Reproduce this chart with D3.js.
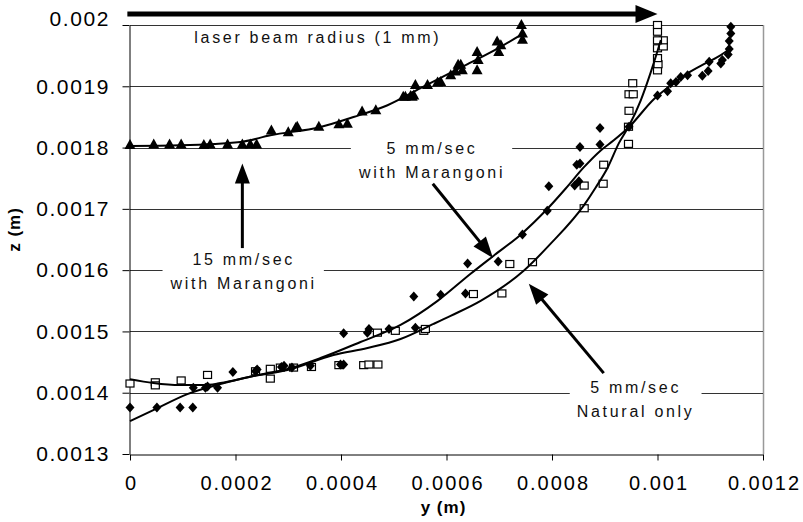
<!DOCTYPE html>
<html>
<head>
<meta charset="utf-8">
<script src="https://cdn.jsdelivr.net/npm/d3@7"></script>
<style>
  body { margin: 0; background: #fff; }
  svg { display: block; font-family: "Liberation Sans", Arial, sans-serif; }
</style>
</head>
<body>
<svg id="chart"></svg>
<script>
// axis ticks
const yTicks = [0, 0.0002, 0.0004, 0.0006, 0.0008, 0.001, 0.0012];
const yTickLabels = ["0", "0.0002", "0.0004", "0.0006", "0.0008", "0.001", "0.0012"];
const zTicks = [0.0013, 0.0014, 0.0015, 0.0016, 0.0017, 0.0018, 0.0019, 0.002];
const zTickLabels = ["0.0013", "0.0014", "0.0015", "0.0016", "0.0017", "0.0018", "0.0019", "0.002"];

// measured points [y, z]
const speed15 = [
  [0, 0.001804], [0.000045, 0.001805], [0.000075, 0.001805], [0.000097, 0.001805],
  [0.000140, 0.001804], [0.000152, 0.001805], [0.000185, 0.001805], [0.000213, 0.001805],
  [0.000228, 0.001805], [0.000240, 0.001805], [0.000268, 0.001828], [0.000300, 0.001825],
  [0.000314, 0.001832], [0.000317, 0.001834], [0.000358, 0.001834], [0.000396, 0.001838],
  [0.000412, 0.001839], [0.000440, 0.001859], [0.000466, 0.001861], [0.000518, 0.001883],
  [0.000522, 0.001883], [0.000532, 0.001884], [0.000535, 0.001883], [0.000538, 0.001885],
  [0.000541, 0.001902], [0.000564, 0.001902], [0.000583, 0.001906], [0.000589, 0.001907],
  [0.000608, 0.001918], [0.000617, 0.001924], [0.000622, 0.001935], [0.000627, 0.001935],
  [0.000630, 0.001926], [0.000658, 0.001956], [0.000660, 0.001943], [0.000658, 0.001926],
  [0.000696, 0.001973], [0.000703, 0.001967], [0.000699, 0.001956], [0.000742, 0.002000],
  [0.000744, 0.001986], [0.000744, 0.001976]
];
const speed5Marangoni = [
  [0, 0.001376], [0.000051, 0.001376], [0.000095, 0.001376], [0.000119, 0.001376],
  [0.000120, 0.001408], [0.000143, 0.001408], [0.000147, 0.001410], [0.000166, 0.001408],
  [0.000195, 0.001434], [0.000238, 0.001435], [0.000241, 0.001438], [0.000287, 0.001442],
  [0.000292, 0.001444], [0.000307, 0.001441], [0.000342, 0.001444], [0.000399, 0.001446],
  [0.000405, 0.001446], [0.000405, 0.001497], [0.000450, 0.001498], [0.000453, 0.001504],
  [0.000491, 0.001504], [0.000541, 0.001506], [0.000538, 0.001557], [0.000589, 0.001560],
  [0.000636, 0.001562], [0.000640, 0.001611], [0.000698, 0.001614], [0.000744, 0.001658],
  [0.000791, 0.001697], [0.000794, 0.001737], [0.000843, 0.001738], [0.000851, 0.001745],
  [0.000847, 0.001772], [0.000853, 0.001774], [0.000853, 0.001801], [0.000891, 0.001805],
  [0.000891, 0.001832], [0.000946, 0.001834], [0.001000, 0.001885], [0.001019, 0.001892],
  [0.001025, 0.001905], [0.001035, 0.001907], [0.001044, 0.001915], [0.001057, 0.001918],
  [0.001085, 0.001917], [0.001096, 0.001925], [0.001098, 0.001940], [0.001120, 0.001937],
  [0.001123, 0.001943], [0.001134, 0.001952], [0.001136, 0.001961], [0.001136, 0.001974],
  [0.001139, 0.001986], [0.001139, 0.001997]
];
const speed5Natural = [
  [0, 0.001415], [0.000048, 0.001417], [0.000048, 0.001412], [0.000097, 0.001420],
  [0.000147, 0.001429], [0.000238, 0.001435], [0.000266, 0.001439], [0.000266, 0.001423],
  [0.000285, 0.001441], [0.000310, 0.001441], [0.000344, 0.001442], [0.000396, 0.001445],
  [0.000443, 0.001445], [0.000453, 0.001446], [0.000470, 0.001446], [0.000469, 0.001498],
  [0.000503, 0.001501], [0.000557, 0.001501], [0.000560, 0.001504], [0.000651, 0.001561],
  [0.000705, 0.001562], [0.000720, 0.001610], [0.000763, 0.001613], [0.000861, 0.001701],
  [0.000861, 0.001738], [0.000897, 0.001741], [0.000898, 0.001772], [0.000945, 0.001806],
  [0.000945, 0.001834], [0.000946, 0.001860], [0.000946, 0.001887], [0.000954, 0.001887],
  [0.000953, 0.001905], [0.001000, 0.001926], [0.001001, 0.001936], [0.001000, 0.001946],
  [0.001000, 0.001962], [0.001011, 0.001965], [0.001011, 0.001975], [0.001000, 0.001975],
  [0.001000, 0.001989], [0.001000, 0.002000]
];

// trend lines [y, z]
const fit15 = [
  [0, 0.0018025], [0.0000954, 0.0018036], [0.0002093, 0.001809], [0.0002662, 0.00182],
  [0.0003611, 0.0018336], [0.0004237, 0.0018499], [0.0004882, 0.0018691], [0.0005508, 0.0018969],
  [0.00064, 0.0019362], [0.0007027, 0.0019645], [0.0007406, 0.0019836]
];
const fit5Marangoni = [
  [0, 0.0013535], [0.0000442, 0.0013715], [0.0001087, 0.0013977], [0.0001713, 0.0014141],
  [0.000234, 0.0014272], [0.0002985, 0.0014386], [0.0003611, 0.0014566], [0.000437, 0.0014828],
  [0.0005129, 0.0015106], [0.0005831, 0.0015499], [0.0006457, 0.0015941], [0.0006894, 0.0016236],
  [0.0007406, 0.0016579], [0.0007918, 0.0017005], [0.000826, 0.0017332], [0.0008601, 0.0017676],
  [0.0008924, 0.0017954], [0.0009171, 0.0018118], [0.0009455, 0.0018331], [0.000993, 0.0018789],
  [0.0010252, 0.0019018], [0.0010575, 0.0019214], [0.0010916, 0.0019378], [0.0011201, 0.0019509],
  [0.0011391, 0.0019624]
];
const fit5Natural = [
  [0, 0.0014222], [0.0000442, 0.0014157], [0.0000954, 0.0014124], [0.0001391, 0.0014124],
  [0.0001713, 0.0014157], [0.000234, 0.0014272], [0.0002985, 0.001437], [0.0003858, 0.0014615],
  [0.0004503, 0.001473], [0.0005129, 0.0014877], [0.0005755, 0.0015123], [0.0006078, 0.0015254],
  [0.0006647, 0.0015499], [0.0007463, 0.001599], [0.0007975, 0.0016432], [0.0008601, 0.0017054],
  [0.0008829, 0.0017349], [0.0009057, 0.0017676], [0.0009266, 0.0018069], [0.0009455, 0.0018347],
  [0.0009683, 0.0018772], [0.0009873, 0.0019231], [0.0010006, 0.0019591], [0.0010063, 0.0019754]
];

// annotations (anchor in data units)
const notes = [
  { lines: ["laser beam radius (1 mm)"], at: [0.0003535, 0.0019804] },
  { lines: ["15 mm/sec", "with Marangoni"], at: [0.000213, 0.001599] },
  { lines: ["5 mm/sec", "with Marangoni"], at: [0.00057, 0.001779] },
  { lines: ["5 mm/sec", "Natural only"], at: [0.000956, 0.00139] }
];
const arrows = [
  { from: [-0.000005, 0.002018], to: [0.001, 0.002018], w: 5, head: [22, 9] },
  { from: [0.000213, 0.001636], to: [0.000213, 0.001774], w: 3, head: [20, 7.5] },
  { from: [0.000574, 0.001741], to: [0.000688, 0.00162], w: 3, head: [21, 8] },
  { from: [0.000898, 0.001432], to: [0.000756, 0.001578], w: 3, head: [21, 8] }
];

const width = 803, height = 522;
const margin = { top: 25, right: 40, bottom: 68, left: 130 };

const svg = d3.select('#chart').attr('width', width).attr('height', height);

const x = d3.scaleLinear().domain([0, 0.0012]).range([margin.left, width - margin.right]);
const y = d3.scaleLinear().domain([0.0013, 0.002]).range([height - margin.bottom, margin.top]);

// plot frame (right edge grey) and gridlines
svg.append('line')
  .attr('x1', x(0.0012) + 0.5).attr('x2', x(0.0012) + 0.5)
  .attr('y1', y(0.002)).attr('y2', y(0.0013))
  .attr('stroke', '#999').attr('stroke-width', 1.5);

svg.append('g')
  .selectAll('line')
  .data(zTicks.slice(1))
  .join('line')
  .attr('x1', x(0)).attr('x2', x(0.0012))
  .attr('y1', d => Math.round(y(d)) + 0.5).attr('y2', d => Math.round(y(d)) + 0.5)
  .attr('stroke', '#333').attr('stroke-width', 1);

// axes
const xAxis = svg.append('g')
  .attr('transform', `translate(0, ${Math.round(y(0.0013)) + 0.5})`)
  .call(d3.axisBottom(x).tickValues(yTicks).tickFormat((d, i) => yTickLabels[i]).tickSize(6).tickSizeOuter(0));
const yAxis = svg.append('g')
  .attr('transform', `translate(${Math.round(x(0)) - 0.5}, 0)`)
  .call(d3.axisLeft(y).tickValues(zTicks).tickFormat((d, i) => zTickLabels[i]).tickSize(7).tickSizeOuter(0));

[xAxis, yAxis].forEach(g => {
  g.select('.domain').attr('stroke', '#000');
  g.selectAll('.tick line').attr('stroke', '#000');
  g.selectAll('.tick text')
    .attr('fill', '#000')
    .attr('font-family', '"Liberation Sans", Arial, sans-serif');
});
xAxis.selectAll('.tick text')
  .attr('font-size', 20).attr('letter-spacing', 2)
  .attr('y', 21).attr('dx', 1);
yAxis.selectAll('.tick text')
  .attr('font-size', 21).attr('letter-spacing', 1.6)
  .attr('x', -19.5);
yAxis.selectAll('.tick text').filter((d, i) => i === zTicks.length - 1).attr('dy', '0.0em');

// axis titles
svg.append('text')
  .attr('x', (x(0) + x(0.0012)) / 2 - 3).attr('y', 513)
  .attr('text-anchor', 'middle')
  .attr('font-size', 17).attr('font-weight', 'bold').attr('letter-spacing', 1)
  .text('y (m)');
svg.append('text')
  .attr('transform', `translate(20, ${(y(0.0013) + y(0.002)) / 2 - 10}) rotate(-90)`)
  .attr('text-anchor', 'middle')
  .attr('font-size', 17).attr('font-weight', 'bold').attr('letter-spacing', 1)
  .text('z (m)');

// annotation labels on white boxes
notes.forEach(n => {
  const g = svg.append('g')
    .attr('transform', `translate(${x(n.at[0])}, ${y(n.at[1])})`);
  const box = g.append('rect').attr('fill', '#fff');
  const lh = 24;
  const t = g.append('text')
    .attr('text-anchor', 'middle')
    .attr('font-size', 16)
    .attr('letter-spacing', 2.7)
    .attr('fill', '#111');
  n.lines.forEach((s, i) => {
    t.append('tspan')
      .attr('x', 1.35)
      .attr('y', (i - (n.lines.length - 1) / 2) * lh)
      .attr('dy', '0.36em')
      .text(s);
  });
  const bb = t.node().getBBox();
  box.attr('x', bb.x - 7).attr('y', bb.y - 2)
    .attr('width', bb.width + 14).attr('height', bb.height + 4);
});

// markers
const tri = 'M0,-6L5.5,4L-5.5,4Z';
const diamond = 'M0,-5L4.5,0L0,5L-4.5,0Z';

svg.append('g')
  .selectAll('path')
  .data(speed15)
  .join('path')
  .attr('d', tri)
  .attr('transform', d => `translate(${x(d[0])}, ${y(d[1])})`)
  .attr('fill', '#000');

svg.append('g')
  .selectAll('rect')
  .data(speed5Natural)
  .join('rect')
  .attr('x', d => x(d[0]) - 4)
  .attr('y', d => y(d[1]) - 3.5)
  .attr('width', 8).attr('height', 7)
  .attr('fill', '#fff')
  .attr('stroke', '#000').attr('stroke-width', 1.2);

svg.append('g')
  .selectAll('path')
  .data(speed5Marangoni)
  .join('path')
  .attr('d', diamond)
  .attr('transform', d => `translate(${x(d[0])}, ${y(d[1])})`)
  .attr('fill', '#000');

// trend lines
const line = d3.line()
  .x(d => x(d[0]))
  .y(d => y(d[1]))
  .curve(d3.curveMonotoneX);

[fit15, fit5Marangoni, fit5Natural].forEach(f => {
  svg.append('path')
    .attr('d', line(f))
    .attr('fill', 'none')
    .attr('stroke', '#000')
    .attr('stroke-width', 2);
});

// arrows
arrows.forEach(a => {
  const x0 = x(a.from[0]), y0 = y(a.from[1]);
  const x1 = x(a.to[0]), y1 = y(a.to[1]);
  const ang = Math.atan2(y1 - y0, x1 - x0);
  const [hl, hw] = a.head;
  const bx = x1 - hl * Math.cos(ang), by = y1 - hl * Math.sin(ang);
  svg.append('line')
    .attr('x1', x0).attr('y1', y0)
    .attr('x2', bx + Math.cos(ang)).attr('y2', by + Math.sin(ang))
    .attr('stroke', '#000').attr('stroke-width', a.w);
  const px = -Math.sin(ang), py = Math.cos(ang);
  svg.append('path')
    .attr('d', `M${x1},${y1}L${bx + px * hw},${by + py * hw}L${bx - px * hw},${by - py * hw}Z`)
    .attr('fill', '#000');
});
</script>
</body>
</html>
